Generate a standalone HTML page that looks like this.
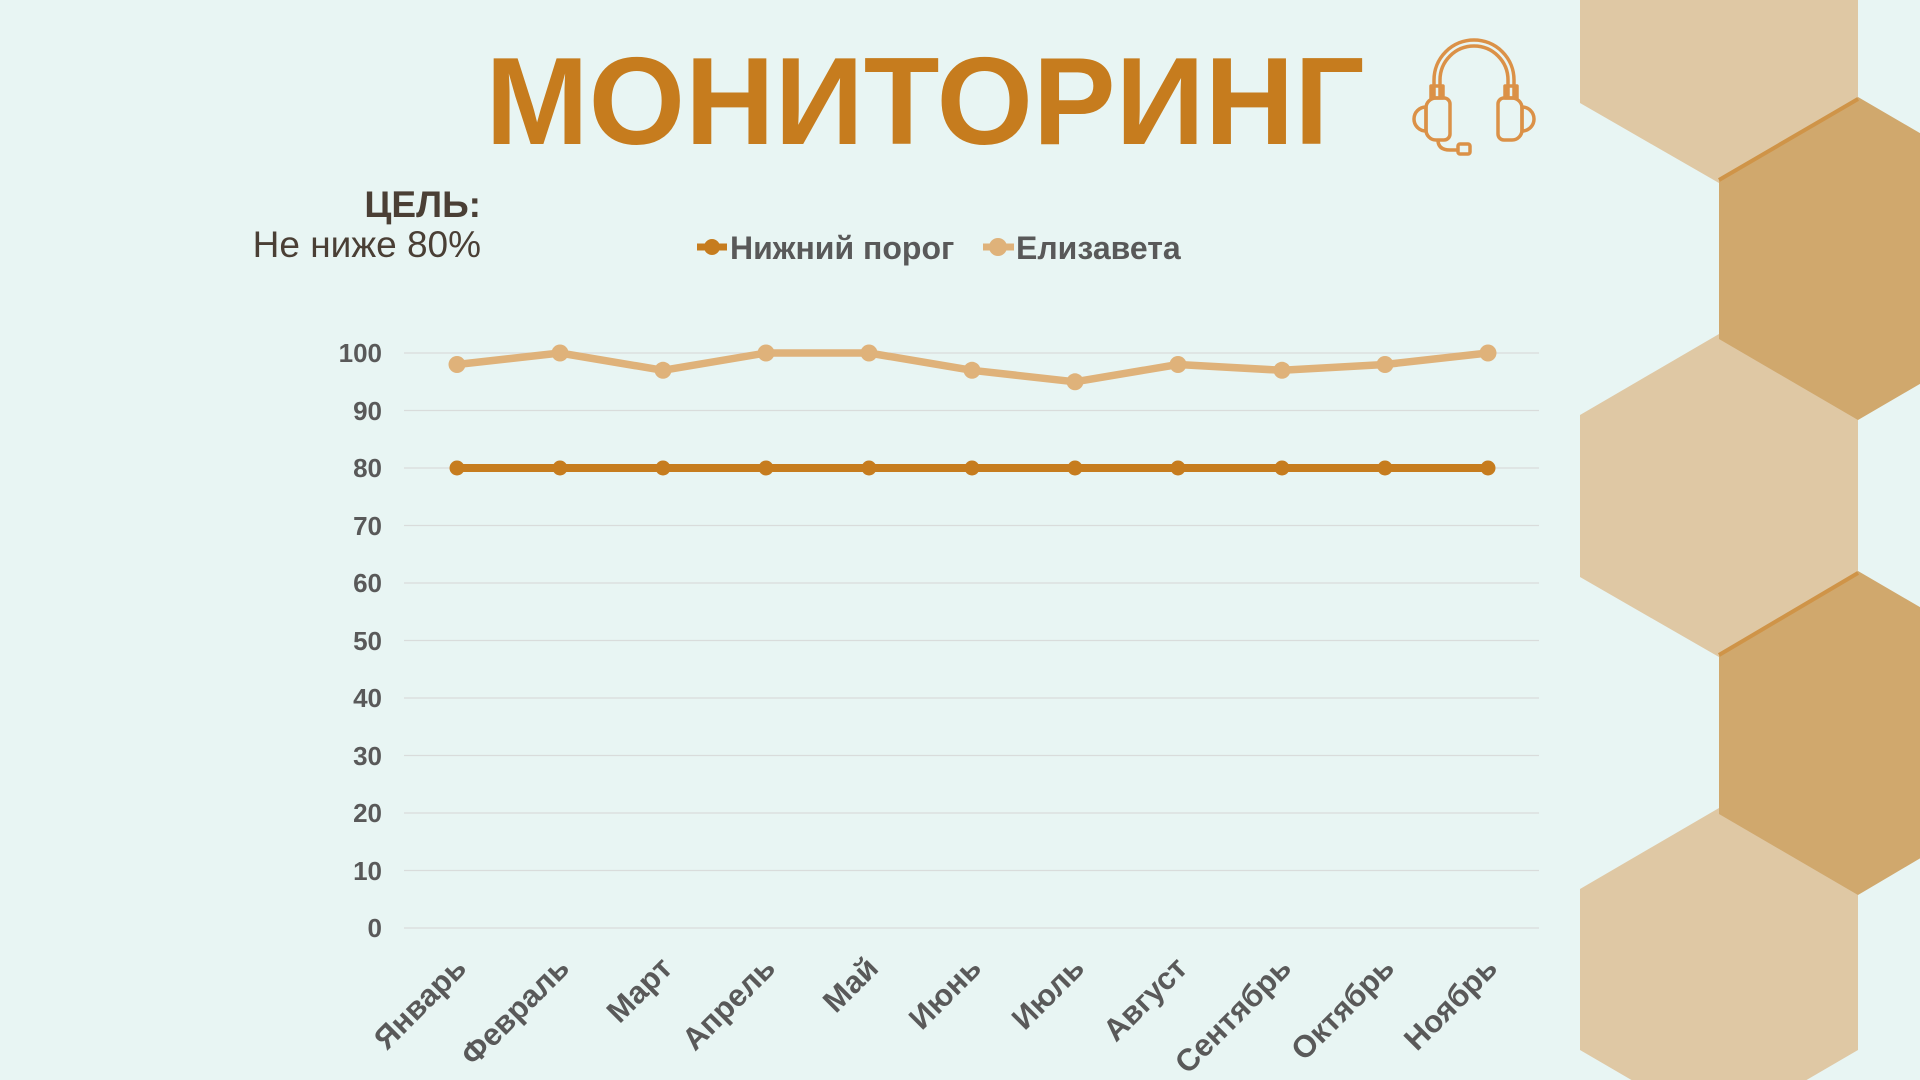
<!DOCTYPE html>
<html><head><meta charset="utf-8"><style>
html,body{margin:0;padding:0;background:#e8f5f3;}
body{width:1920px;height:1080px;overflow:hidden;position:relative;font-family:"Liberation Sans",sans-serif;}
</style></head><body>
<svg width="1920" height="1080" viewBox="0 0 1920 1080" style="position:absolute;left:0;top:0">
<rect width="1920" height="1080" fill="#e8f5f3"/>
<g fill="#dfc8a4">
<polygon points="1719,-140 1858,-59 1858,100 1719,183 1580,103 1580,-59"/>
<polygon points="1719,334 1858,418 1858,577 1719,657 1580,577 1580,415"/>
<polygon points="1719,808 1858,892 1858,1050 1719,1131 1580,1050 1580,889"/>
</g>
<g fill="#d0a86d">
<polygon points="1858,97 1997,178 1997,339 1858,420 1719,339 1719,180"/>
<polygon points="1858,571 1997,652 1997,813 1858,895 1719,814 1719,655"/>
</g>
<g stroke="#cf9448" stroke-width="4">
<line x1="1719" y1="180" x2="1858" y2="99"/>
<line x1="1719" y1="655" x2="1858" y2="573"/>
</g>
<g fill="none" stroke="#db9147" stroke-width="3.5" stroke-linejoin="round">
<path d="M1434,97 L1434,80 A40,40 0 0 1 1514,80 L1514,97"/>
<path d="M1440,97 L1440,80 A34,34 0 0 1 1508,80 L1508,97"/>
<rect x="1431" y="86" width="12" height="12"/>
<rect x="1505" y="86" width="12" height="12"/>
<path d="M1436,98 h8 a6,6 0 0 1 6,6 v30 a6,6 0 0 1 -6,6 h-8 a10,10 0 0 1 -10,-10 v-22 a10,10 0 0 1 10,-10z"/>
<path d="M1512,98 h-8 a6,6 0 0 0 -6,6 v30 a6,6 0 0 0 6,6 h8 a10,10 0 0 0 10,-10 v-22 a10,10 0 0 0 -10,-10z"/>
<path d="M1426,107 a8,8 0 0 0 0,24z"/>
<path d="M1522,107 a8,8 0 0 1 0,24z"/>
<path d="M1438,140 q0,10 12,10 h8"/>
<rect x="1458" y="144" width="12" height="10" rx="2"/>
</g>
<text x="925" y="144" text-anchor="middle" font-family="Liberation Sans" font-weight="bold" font-size="124" fill="#c67c1e">МОНИТОРИНГ</text>
<text x="481" y="217" text-anchor="end" font-family="Liberation Sans" font-weight="bold" font-size="37" fill="#4a3f35">ЦЕЛЬ:</text>
<text x="481" y="257" text-anchor="end" font-family="Liberation Sans" font-size="37" fill="#4a3f35">Не ниже 80%</text>
<line x1="697" y1="247" x2="727" y2="247" stroke="#c67c1e" stroke-width="7"/>
<circle cx="712" cy="247" r="8" fill="#c67c1e"/>
<text x="730" y="259" font-family="Liberation Sans" font-weight="bold" font-size="32" fill="#595959">Нижний порог</text>
<line x1="983" y1="247" x2="1014" y2="247" stroke="#dfb27a" stroke-width="7"/>
<circle cx="998" cy="247" r="9" fill="#dfb27a"/>
<text x="1016" y="259" font-family="Liberation Sans" font-weight="bold" font-size="32" fill="#595959">Елизавета</text>
<g stroke="#d9dcdb" stroke-width="1.3">
<line x1="404" x2="1539" y1="353" y2="353"/><line x1="404" x2="1539" y1="410.5" y2="410.5"/>
<line x1="404" x2="1539" y1="468" y2="468"/><line x1="404" x2="1539" y1="525.5" y2="525.5"/>
<line x1="404" x2="1539" y1="583" y2="583"/><line x1="404" x2="1539" y1="640.5" y2="640.5"/>
<line x1="404" x2="1539" y1="698" y2="698"/><line x1="404" x2="1539" y1="755.5" y2="755.5"/>
<line x1="404" x2="1539" y1="813" y2="813"/><line x1="404" x2="1539" y1="870.5" y2="870.5"/>
<line x1="404" x2="1539" y1="928" y2="928"/>
</g>
<g font-family="Liberation Sans" font-weight="bold" font-size="26" fill="#595959" text-anchor="end">
<text x="382" y="362">100</text><text x="382" y="420">90</text><text x="382" y="477">80</text>
<text x="382" y="535">70</text><text x="382" y="592">60</text><text x="382" y="650">50</text>
<text x="382" y="707">40</text><text x="382" y="765">30</text><text x="382" y="822">20</text>
<text x="382" y="880">10</text><text x="382" y="937">0</text>
</g>
<polyline fill="none" stroke="#dfb27a" stroke-width="7.5" stroke-linejoin="round" points="457,364.5 560,353 663,370.3 766,353 869,353 972,370.3 1075,381.8 1178,364.5 1282,370.3 1385,364.5 1488,353"/>
<g fill="#dfb27a">
<circle cx="457" cy="364.5" r="8.5"/><circle cx="560" cy="353" r="8.5"/><circle cx="663" cy="370.3" r="8.5"/>
<circle cx="766" cy="353" r="8.5"/><circle cx="869" cy="353" r="8.5"/><circle cx="972" cy="370.3" r="8.5"/>
<circle cx="1075" cy="381.8" r="8.5"/><circle cx="1178" cy="364.5" r="8.5"/><circle cx="1282" cy="370.3" r="8.5"/>
<circle cx="1385" cy="364.5" r="8.5"/><circle cx="1488" cy="353" r="8.5"/>
</g>
<line x1="457" y1="468" x2="1488" y2="468" stroke="#c67c1e" stroke-width="8"/>
<g fill="#c67c1e">
<circle cx="457" cy="468" r="7.5"/><circle cx="560" cy="468" r="7.5"/><circle cx="663" cy="468" r="7.5"/>
<circle cx="766" cy="468" r="7.5"/><circle cx="869" cy="468" r="7.5"/><circle cx="972" cy="468" r="7.5"/>
<circle cx="1075" cy="468" r="7.5"/><circle cx="1178" cy="468" r="7.5"/><circle cx="1282" cy="468" r="7.5"/>
<circle cx="1385" cy="468" r="7.5"/><circle cx="1488" cy="468" r="7.5"/>
</g>
<g font-family="Liberation Sans" font-weight="bold" font-size="31" fill="#595959" text-anchor="end">
<text transform="translate(468,970) rotate(-45)">Январь</text>
<text transform="translate(571,970) rotate(-45)">Февраль</text>
<text transform="translate(674,970) rotate(-45)">Март</text>
<text transform="translate(777,970) rotate(-45)">Апрель</text>
<text transform="translate(880,970) rotate(-45)">Май</text>
<text transform="translate(983,970) rotate(-45)">Июнь</text>
<text transform="translate(1086,970) rotate(-45)">Июль</text>
<text transform="translate(1189,970) rotate(-45)">Август</text>
<text transform="translate(1293,970) rotate(-45)">Сентябрь</text>
<text transform="translate(1396,970) rotate(-45)">Октябрь</text>
<text transform="translate(1499,970) rotate(-45)">Ноябрь</text>
</g>
</svg>
</body></html>
